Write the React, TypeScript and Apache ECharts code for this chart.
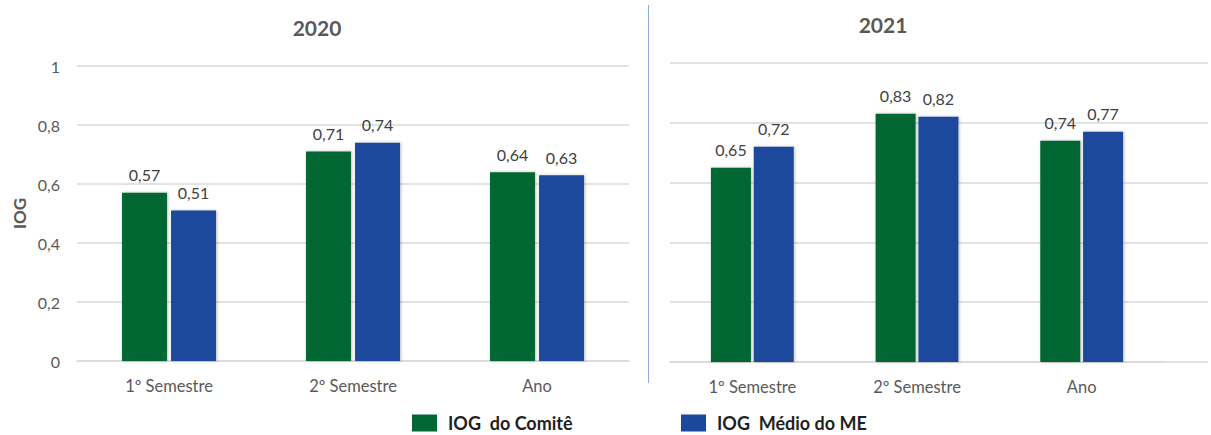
import React, { useEffect, useRef } from "react";
import * as echarts from "echarts";

const categories = ["1º Semestre", "2º Semestre", "Ano"];
const comite2020 = [0.57, 0.71, 0.64];
const medio2020 = [0.51, 0.74, 0.63];
const comite2021 = [0.65, 0.83, 0.74];
const medio2021 = [0.72, 0.82, 0.77];
const seriesNames = ["IOG  do Comitê", "IOG  Médio do ME"];
const titles = ["2020", "2021"];

const GREEN = "#006633";
const BLUE = "#1a489b";
const FONT = "Lato";

const fmt = (v: number) => String(v).replace(".", ",");
const fmt2 = (v: number) => v.toFixed(2).replace(".", ",");

export default function App() {
  const ref = useRef<HTMLDivElement>(null);
  useEffect(() => {
    if (!ref.current) return;
    const chart = echarts.init(ref.current, undefined, { renderer: "svg" });
    const barLabel = {
      show: true,
      position: "top" as const,
      distance: 10,
      color: "#404040",
      fontSize: 16,
      fontFamily: FONT,
      formatter: (p: any) => fmt2(p.value),
    };
    const shadow = {
      shadowColor: "rgba(0,0,0,0.25)",
      shadowBlur: 3,
      shadowOffsetX: 1,
      shadowOffsetY: 0,
    };
    const mkBar = (name: string, data: number[], color: string, idx: number, width: number, gap: string) => ({
      type: "bar",
      name,
      data,
      xAxisIndex: idx,
      yAxisIndex: idx,
      barWidth: width,
      barGap: gap,
      itemStyle: { color, ...shadow },
      label: barLabel,
    });
    const xAx = (gridIndex: number, show = true) => ({
      type: "category",
      gridIndex,
      data: categories,
      show,
      axisTick: { show: false },
      axisLine: { show: true, lineStyle: { color: "#d9d9d9", width: 1.5 } },
      axisLabel: { color: "#595959", fontSize: 16.5, fontFamily: FONT, margin: 16 },
    });
    const legendText = { color: "#1f1f1f", fontSize: 18, fontWeight: "bold", fontFamily: FONT, padding: [0, 0, 0, 6] };
    const option: any = {
      animation: false,
      backgroundColor: "#ffffff",
      textStyle: { fontFamily: FONT },
      grid: [
        { left: 77, width: 552, top: 66, bottom: 74 },
        { left: 670, width: 494, top: 63, bottom: 73 },
        { left: 670, right: 3, top: 63, bottom: 73 },
      ],
      xAxis: [xAx(0), xAx(1), { ...xAx(2), show: false }],
      yAxis: [
        {
          type: "value",
          gridIndex: 0,
          min: 0,
          max: 1,
          interval: 0.2,
          name: "IOG",
          nameLocation: "middle",
          nameGap: 49,
          nameRotate: 90,
          nameTextStyle: { color: "#595959", fontSize: 17, fontWeight: "bold", fontFamily: FONT },
          axisLine: { show: false },
          axisTick: { show: false },
          axisLabel: { color: "#595959", fontSize: 16, fontFamily: FONT, margin: 17, formatter: (v: number) => fmt(v) },
          splitLine: { lineStyle: { color: "#d9d9d9", width: 1.5 } },
        },
        {
          type: "value",
          gridIndex: 1,
          min: 0,
          max: 1,
          interval: 0.2,
          axisLine: { show: false },
          axisTick: { show: false },
          axisLabel: { show: false },
          splitLine: { show: false },
        },
        {
          type: "value",
          gridIndex: 2,
          min: 0,
          max: 1,
          interval: 0.2,
          axisLine: { show: false },
          axisTick: { show: false },
          axisLabel: { show: false },
          splitLine: { lineStyle: { color: "#d9d9d9", width: 1.5 } },
        },
      ],
      legend: [
        {
          data: [seriesNames[0]],
          left: 412,
          top: 414,
          padding: 0,
          icon: "rect",
          itemWidth: 25,
          itemHeight: 17,
          textStyle: legendText,
        },
        {
          data: [seriesNames[1]],
          left: 681,
          top: 414,
          padding: 0,
          icon: "rect",
          itemWidth: 25,
          itemHeight: 17,
          textStyle: legendText,
        },
      ],
      graphic: [
        {
          type: "text",
          x: 317,
          y: 27,
          style: { text: titles[0], fill: "#595959", font: `bold 21px ${FONT}`, textAlign: "center", textVerticalAlign: "middle" },
        },
        {
          type: "text",
          x: 883,
          y: 24,
          style: { text: titles[1], fill: "#595959", font: `bold 21px ${FONT}`, textAlign: "center", textVerticalAlign: "middle" },
        },
        {
          type: "line",
          shape: { x1: 648.5, y1: 5, x2: 648.5, y2: 383 },
          style: { stroke: "#8faadc", lineWidth: 1 },
        },
      ],
      series: [
        mkBar(seriesNames[0], comite2020, GREEN, 0, 45, "9%"),
        mkBar(seriesNames[1], medio2020, BLUE, 0, 45, "9%"),
        mkBar(seriesNames[0], comite2021, GREEN, 1, 40, "7%"),
        mkBar(seriesNames[1], medio2021, BLUE, 1, 40, "7%"),
      ],
    };
    chart.setOption(option);
    return () => chart.dispose();
  }, []);
  return (
    <div
      ref={ref}
      style={{ position: "fixed", left: 0, top: 0, width: 1211, height: 435, background: "#fff" }}
    />
  );
}
